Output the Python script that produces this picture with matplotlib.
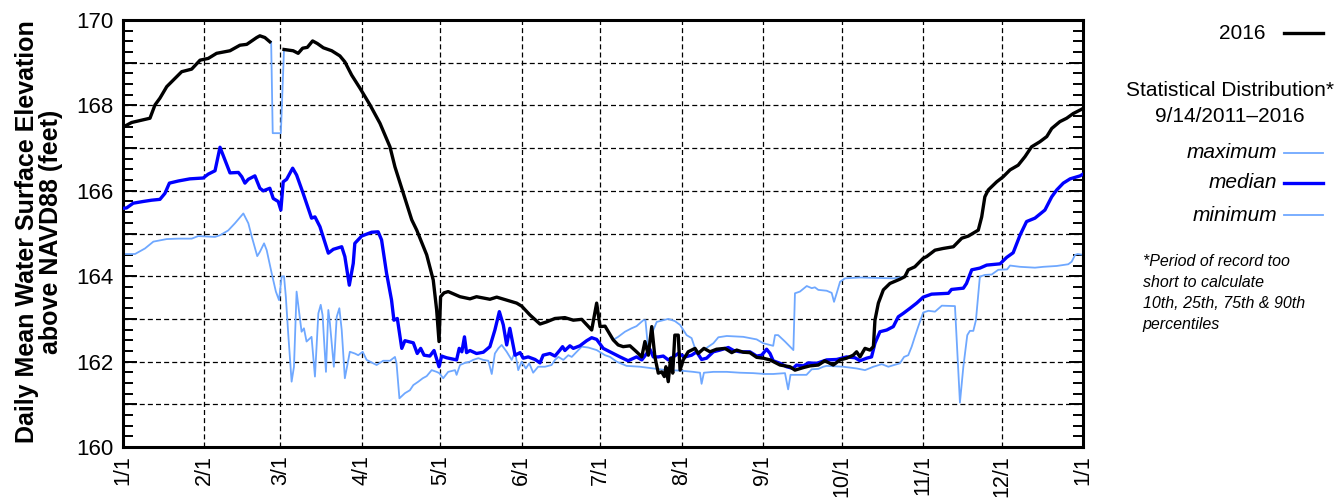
import matplotlib.pyplot as plt
import matplotlib.ticker as mticker
import numpy as np

plt.rcParams["font.family"] = ["Liberation Sans", "DejaVu Sans"]

# day of year (2016, leap year) and daily mean stage in feet
wy2016_days = [0, 3.3, 10.3, 12.2, 14.1, 16.7, 22.4, 26.2, 29.4, 32.5, 35.7, 40.8, 44.6, 47.2, 51, 52.2,
               54.1, 56, 58.5, 61.4, 64.9, 66.8, 68.5, 70.3, 72.3, 74.1, 76.4, 79.6, 82.7, 84.6, 87.2,
               90.4, 94.2, 98, 101.8, 103.7, 106.9, 110.1, 112, 115.8, 118.3, 119.6, 120.5, 121.1, 122.4,
               124, 128.5, 132.3, 134.8, 139.9, 142.5, 146.3, 150.1, 152, 155.2, 159, 161.5, 164.7, 168.5,
               171.7, 174.9, 178.7, 180.6, 181.9, 183.8, 186.9, 188.8, 190.7, 193.3, 195.8, 197.8, 199,
               200.3, 201.6, 202.8, 204.1, 205.4, 206.4, 207, 207.9, 208.8, 209.6, 210.4, 211.7, 212.4,
               213.6, 215.5, 218.1, 219.3, 221.5, 223.8, 226.3, 229.5, 232.1, 234, 236.5, 239, 241.6,
               244.1, 246.7, 250.5, 254.3, 256.2, 259.4, 261.9, 265.1, 267.6, 270.8, 273.4, 275.9, 278.4,
               279.7, 281, 282.9, 284.8, 286.1, 286.7, 288, 289.9, 292.4, 296.2, 298.1, 299.4, 301.9,
               305.1, 306.4, 309.6, 312.7, 316.6, 319.8, 322.3, 326.1, 327.4, 328.6, 329.9, 333.1, 335.6,
               338.2, 341.3, 343.9, 346.4, 349.6, 352.2, 354.1, 357.2, 359.8, 362.3, 365.5, 366]
wy2016_vals = [167.49, 167.60, 167.70, 168.01, 168.17, 168.44, 168.79, 168.85, 169.06, 169.10, 169.22,
               169.28, 169.41, 169.43, 169.59, 169.63, 169.59, 169.49, np.nan, 169.31, 169.28, 169.22,
               169.34, 169.36, 169.51, 169.45, 169.35, 169.28, 169.16, 169.02, 168.71, 168.40, 168.01,
               167.58, 167.03, 166.56, 165.94, 165.32, 165.08, 164.50, 163.91, 163.21, 162.47, 163.52,
               163.61, 163.64, 163.52, 163.47, 163.52, 163.46, 163.51, 163.44, 163.37, 163.30, 163.09,
               162.88, 162.93, 163.01, 163.03, 162.97, 162.99, 162.74, 163.37, 162.82, 162.83, 162.51,
               162.39, 162.35, 162.37, 162.23, 162.11, 162.47, 162.15, 162.82, 162.11, 161.73, 161.76,
               161.65, 161.88, 161.53, 162.08, 161.73, 162.62, 162.62, 161.80, 162.04, 162.23, 162.31,
               162.19, 162.31, 162.23, 162.29, 162.31, 162.21, 162.27, 162.22, 162.21, 162.10, 162.08,
               162.04, 161.92, 161.88, 161.80, 161.86, 161.90, 161.92, 162.02, 161.92, 162.04, 162.08,
               162.15, 162.23, 162.11, 162.31, 162.27, 162.35, 162.97, 163.37, 163.68, 163.83, 163.93,
               163.99, 164.15, 164.22, 164.42, 164.46, 164.61, 164.65, 164.69, 164.89, 164.94, 165.08,
               165.39, 165.86, 166.02, 166.21, 166.33, 166.49, 166.60, 166.80, 167.03, 167.15, 167.27,
               167.46, 167.62, 167.70, 167.81, 167.91, 167.93]

median_days = [0, 1.4, 3.9, 7.7, 10.9, 14.1, 16, 17.7, 21.1, 25.5, 30.6, 32.5, 35.1, 37, 38.9, 40.8, 44,
               45.3, 46.5, 47.8, 50.3, 52.2, 53.5, 56, 57.3, 59.2, 60.2, 61.1, 62.4, 64.7, 66.2, 68.7,
               71.9, 73.2, 75.1, 78.3, 80.2, 83.4, 84.6, 86.3, 87.8, 88.4, 91, 94.8, 97.3, 98.6, 100.5,
               102.4, 103.3, 104.6, 106.3, 107.5, 110.7, 112.2, 113.5, 114.8, 117, 118.6, 120.5, 121.5,
               123.4, 127.2, 128.2, 129.2, 130.2, 131, 132.3, 134.8, 137.4, 139.9, 141.8, 143.5, 145,
               146.3, 147.5, 149.5, 151.4, 152.6, 154.5, 157.1, 159, 160.2, 162.8, 164.7, 166.6, 167.6,
               168.5, 170.4, 171.7, 174.2, 176.8, 178.7, 180.6, 183.1, 186.9, 189.5, 192.6, 195.8, 197.8,
               199.7, 200.9, 202.2, 204.1, 206, 207.9, 209.8, 211.7, 214.3, 216.8, 218.7, 220.6, 222.5,
               225.1, 227.6, 230.8, 232.8, 235.2, 239, 241.6, 243.5, 245.4, 246.7, 247.9, 250.5, 253,
               255.5, 256.8, 259.4, 261.3, 264.5, 268.3, 272.1, 275.9, 279.1, 281, 283.5, 285.4, 286.7,
               288.6, 291.2, 293.7, 295.6, 297.5, 300.1, 302.6, 305.1, 308.3, 314.7, 315.9, 320.4, 321.6,
               323.6, 326.7, 329.3, 334.4, 336.9, 339.4, 342, 344.5, 347.7, 351.5, 354.1, 356, 358.5,
               361.1, 364.9, 366]
median_vals = [165.59, 165.60, 165.71, 165.75, 165.78, 165.80, 165.94, 166.18, 166.23, 166.28, 166.30,
               166.39, 166.47, 167.02, 166.72, 166.42, 166.43, 166.33, 166.18, 166.27, 166.35, 166.06,
               166.00, 166.06, 165.82, 165.75, 165.55, 166.21, 166.27, 166.53, 166.37, 165.94, 165.36,
               165.39, 165.16, 164.54, 164.63, 164.69, 164.46, 163.79, 164.30, 164.77, 164.94, 165.03,
               165.04, 164.85, 164.07, 163.44, 162.97, 163.01, 162.31, 162.49, 162.44, 162.19, 162.31,
               162.15, 162.13, 162.26, 161.88, 162.13, 162.09, 162.04, 162.31, 162.23, 162.58, 162.21,
               162.26, 162.19, 162.22, 162.35, 162.74, 163.17, 162.86, 162.39, 162.78, 162.15, 162.21,
               162.08, 162.11, 162.05, 161.97, 162.15, 162.19, 162.13, 162.27, 162.35, 162.26, 162.37,
               162.31, 162.37, 162.49, 162.56, 162.52, 162.31, 162.19, 162.11, 162.02, 162.11, 162.04,
               162.19, 162.29, 162.11, 162.11, 162.13, 162.04, 162.11, 162.19, 162.11, 162.15, 162.23,
               162.05, 162.08, 162.23, 162.27, 162.33, 162.26, 162.23, 162.23, 162.13, 162.15, 162.29,
               162.19, 162.02, 161.96, 161.88, 161.84, 161.92, 161.90, 161.97, 161.96, 162.04, 162.05,
               162.11, 162.09, 162.02, 162.08, 162.11, 162.43, 162.70, 162.74, 162.82, 163.05, 163.13,
               163.25, 163.37, 163.51, 163.58, 163.60, 163.69, 163.72, 163.83, 164.15, 164.19, 164.26,
               164.29, 164.44, 164.55, 164.96, 165.28, 165.36, 165.55, 165.86, 166.02, 166.18, 166.28,
               166.35, 166.39]

minimum_days = [0, 4.6, 8.4, 11.6, 16.7, 21.1, 26.2, 28.7, 35.1, 37, 40.1, 42.7, 45.9, 47.8, 49.1, 51.2,
                52.2, 53.8, 54.8, 56.7, 58.3, 59.5, 60.5, 61.4, 62.1, 63, 64.3, 65.2, 66.2, 67.5, 68.1,
                69, 70, 71.9, 73.2, 74.5, 75.4, 76.1, 77.4, 78.3, 78.9, 80.4, 81.5, 82.5, 83.4, 84.6,
                86.5, 88.4, 89.7, 91.4, 92.9, 96.7, 99.2, 101.8, 103.7, 104.3, 105.4, 107.5, 109.4,
                110.7, 112.6, 114.3, 115.8, 117.7, 119.6, 120.6, 122.1, 124, 126.6, 127.2, 128.5, 130.4,
                132.3, 133.5, 135.5, 137.4, 139.3, 140.6, 141.8, 143.1, 144.4, 146.3, 148.2, 149.5,
                150.7, 152, 153.6, 154.9, 156.4, 158.3, 160.9, 163.4, 164.7, 166, 167.9, 169.8, 171.1,
                173, 174.9, 177.4, 180.6, 183.8, 185.7, 188.2, 192, 197.1, 202.2, 207.3, 212.4, 217.4,
                220, 220.6, 221.5, 225.1, 230.2, 235.2, 240.3, 244.8, 247.9, 252.4, 253.6, 254.5, 256.8,
                260.6, 262.6, 265.1, 267, 268.3, 274.6, 279.7, 282.9, 286.1, 289.3, 291.8, 296.2, 297.8,
                299.4, 300.7, 301.9, 303.2, 305.1, 307.1, 309.6, 312.2, 316.6, 317.2, 319.1, 320.4,
                321.9, 322.9, 324.2, 325.2, 326.7, 328.6, 331.2, 333.7, 337.1, 338.2, 342, 347.7, 350.9,
                356, 360.4, 361.7, 363, 364, 366]
minimum_vals = [164.52, 164.52, 164.65, 164.81, 164.87, 164.88, 164.88, 164.94, 164.92, 164.96, 165.07,
                165.24, 165.47, 165.24, 164.93, 164.47, 164.57, 164.77, 164.61, 164.07, 163.64, 163.44,
                163.99, 164.00, 163.52, 162.66, 161.53, 161.88, 163.64, 163.01, 162.70, 162.78, 162.47,
                162.58, 161.65, 163.13, 163.33, 163.09, 161.76, 163.21, 162.90, 161.88, 163.05, 163.25,
                162.74, 161.61, 162.23, 162.19, 162.15, 162.23, 162.04, 161.92, 162.02, 162.02, 162.11,
                161.96, 161.14, 161.26, 161.33, 161.45, 161.53, 161.61, 161.66, 161.80, 161.76, 161.73,
                161.61, 161.76, 161.80, 161.69, 161.92, 161.97, 162.00, 162.04, 162.08, 162.04, 162.02,
                161.71, 162.19, 162.31, 162.39, 162.23, 162.04, 162.23, 161.80, 162.00, 161.84, 161.96,
                161.74, 161.88, 161.88, 161.92, 162.04, 162.11, 162.04, 162.15, 162.11, 162.23, 162.35,
                162.33, 162.27, 162.15, 162.11, 162.00, 161.90, 161.88, 161.84, 161.80, 161.79, 161.76,
                161.74, 161.48, 161.74, 161.76, 161.76, 161.74, 161.73, 161.71, 161.71, 161.73, 161.35,
                161.69, 161.69, 161.69, 161.82, 161.83, 161.88, 161.90, 161.88, 161.84, 161.80, 161.88,
                161.94, 161.88, 161.96, 162.11, 162.15, 162.35, 162.58, 162.82, 163.15, 163.19, 163.17,
                163.31, 163.30, 163.30, 161.04, 161.88, 162.62, 162.72, 162.72, 162.97, 163.99, 164.03,
                164.04, 164.15, 164.16, 164.25, 164.22, 164.20, 164.22, 164.24, 164.28, 164.34, 164.50,
                164.52, 164.50]

# maximum of record: 2016 itself sets the record inside these spans
record_2016_spans = [(0, 56), (61, 186.5), (298, 366)]
# maximum of record where another year was higher than 2016
maximum_days = [56.5, 57.1, 60.2, 61.4, np.nan, 186.9, 188.8, 191.4, 193.9, 195.8, 198.4, 199.2, 200.3,
                202.2, 203.5, 207.9, 210.4, 212.4, 214.9, 216.8, 218.1, 219.3, 222, 225.1, 227, 230.2,
                236.5, 241.6, 244.1, 245.4, 247.9, 248.6, 249.8, 252.4, 255.6, 256.2, 258.1, 260.7,
                262.6, 263.8, 265.1, 268.3, 270.2, 271.1, 272.1, 273.4, 275.3, 281, 293.7, 298.1]
maximum_vals = [169.49, 167.35, 167.35, 169.31, np.nan, 162.51, 162.58, 162.70, 162.78, 162.83, 162.97,
                162.97, 162.25, 162.74, 162.93, 163.00, 162.95, 162.86, 162.62, 162.55, 162.31, 162.23,
                162.30, 162.43, 162.57, 162.60, 162.58, 162.52, 162.43, 162.41, 162.37, 162.62, 162.62,
                162.47, 162.27, 163.60, 163.64, 163.77, 163.72, 163.74, 163.68, 163.66, 163.61, 163.40,
                163.60, 163.87, 163.95, 163.97, 163.95, 163.99]

month_starts = [0, 31, 60, 91, 121, 152, 182, 213, 244, 274, 305, 335, 366]
month_labels = ["1/1", "2/1", "3/1", "4/1", "5/1", "6/1", "7/1", "8/1", "9/1", "10/1", "11/1", "12/1", "1/1"]

BLACK = "#000000"
MEDIAN_BLUE = "#0000ff"
LIGHT_BLUE = "#6fa8ff"

fig = plt.figure(figsize=(13.35, 4.98), dpi=100)
ax = fig.add_axes([0.0921, 0.1024, 0.7191, 0.8574])

d16 = np.array(wy2016_days)
v16 = np.array(wy2016_vals)
for lo, hi in record_2016_spans:
    m = (d16 >= lo) & (d16 <= hi)
    ax.plot(d16[m], v16[m], color=LIGHT_BLUE, lw=1.3, zorder=2)
ax.plot(maximum_days, maximum_vals, color=LIGHT_BLUE, lw=1.3, zorder=2)
ax.plot(minimum_days, minimum_vals, color=LIGHT_BLUE, lw=1.3, zorder=2)
ax.plot(median_days, median_vals, color=MEDIAN_BLUE, lw=2.4, zorder=3)
ax.plot(wy2016_days, wy2016_vals, color=BLACK, lw=2.4, zorder=4)

ax.set_xlim(0, 366)
ax.set_ylim(160, 170)

ax.set_xticks(month_starts)
ax.set_xticklabels(month_labels, rotation=90, fontsize=15.5)
ax.tick_params(axis="x", length=0, pad=6)

ax.yaxis.set_major_locator(mticker.MultipleLocator(1))
ax.yaxis.set_minor_locator(mticker.MultipleLocator(0.25))
ax.yaxis.set_major_formatter(mticker.FuncFormatter(lambda v, p: f"{v:.0f}" if round(v) % 2 == 0 else ""))
ax.tick_params(axis="y", which="both", direction="in", left=True, right=True, labelsize=16, pad=7)
ax.tick_params(axis="y", which="major", length=10, width=1.4)
ax.tick_params(axis="y", which="minor", length=7, width=1.4)

ax.grid(True, which="major", color="black", linestyle=(0, (4, 2.5)), linewidth=0.9)
ax.set_axisbelow(True)
for s in ax.spines.values():
    s.set_linewidth(2.2)

fig.text(0.029, 0.535, "Daily Mean Water Surface Elevation\nabove NAVD88 (feet)", rotation=90,
         ha="center", va="center", fontsize=18, fontweight="bold", linespacing=1.0)

# legend block on the right
lx0, lx1 = 0.9615, 0.991
fig.text(0.948, 0.933, "2016", ha="right", va="center", fontsize=15)
fig.add_artist(plt.Line2D([lx0, lx1], [0.933, 0.933], color=BLACK, lw=2.4))
fig.text(0.921, 0.818, "Statistical Distribution*", ha="center", va="center", fontsize=15)
fig.text(0.921, 0.767, "9/14/2011\u20132016", ha="center", va="center", fontsize=15)
for y, label, col, w in [(0.693, "maximum", LIGHT_BLUE, 1.3), (0.633, "median", MEDIAN_BLUE, 2.4),
                         (0.568, "minimum", LIGHT_BLUE, 1.3)]:
    fig.text(0.957, y, label, ha="right", va="center", fontsize=15, style="italic")
    fig.add_artist(plt.Line2D([lx0, lx1], [y, y], color=col, lw=w))
fig.text(0.856, 0.49, "*Period of record too\nshort to calculate\n10th, 25th, 75th & 90th\npercentiles",
         ha="left", va="top", fontsize=11.5, style="italic", linespacing=1.5)

fig.savefig("out.png", dpi=100)
